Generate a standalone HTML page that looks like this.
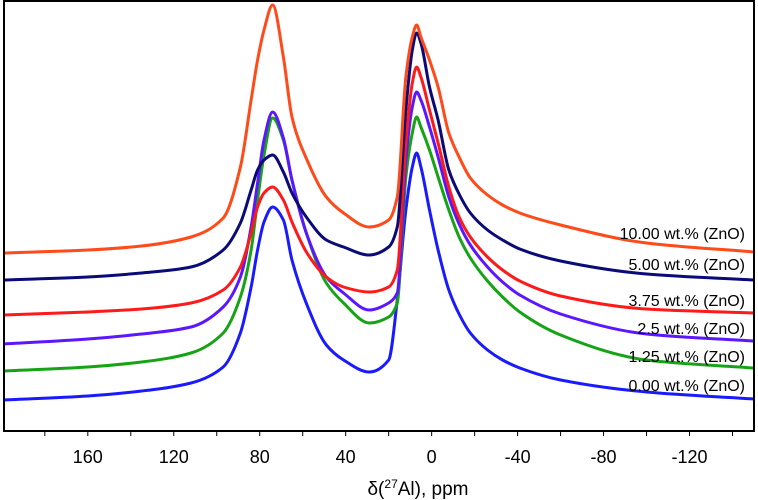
<!DOCTYPE html>
<html><head><meta charset="utf-8"><style>
body{margin:0;background:#fff}
svg{display:block;font-family:"Liberation Sans",Arial,sans-serif}
</style></head><body>
<svg id="c" width="758" height="500"></svg>
<script>
const ppm=[199,160,135,112,97,89,84,81,78,74,69,65,58,49,41,29,20,16,12,9,7,5,1,-3,-8,-13,-18,-26,-33,-41,-60,-100,-150];
const s0=[31,35,40,48,64,98,144,181,209,224,211,171,126,86,71,59,71,131,221,264,278,264,221,181,141,116,98,81,71,63,51,39,32];
const s125=[60,64,69,78,98,134,181,231,276,313,291,251,196,148,128,108,114,128,254,298,314,304,281,254,221,193,173,150,134,119,96,71,63];
const s25=[87,92,97,104,124,154,204,248,291,319,293,251,196,154,138,121,128,138,271,324,339,331,304,274,234,206,186,164,149,136,117,97,90];
const s375=[116,119,122,128,141,164,198,224,238,244,231,209,178,154,144,139,144,161,288,348,364,354,321,288,244,213,194,174,161,150,135,122,118];
const s5=[151,154,158,164,181,208,241,261,271,276,259,238,213,191,184,176,184,204,321,381,398,388,344,311,261,236,218,201,191,182,170,157,151];
const s10=[178,181,185,194,213,264,331,371,401,426,374,314,271,234,218,204,211,234,354,394,406,394,371,344,298,273,253,236,226,218,206,188,179];
const seriesNames=["0.00 wt.% (ZnO)","1.25 wt.% (ZnO)","2.5 wt.% (ZnO)","3.75 wt.% (ZnO)","5.00 wt.% (ZnO)","10.00 wt.% (ZnO)"];
const tickVals=[160,120,80,40,0,-40,-80,-120];
const NS="http://www.w3.org/2000/svg";
const svg=document.getElementById('c');
const L=4,R=754,T=1,B=431,pMax=199,pMin=-150;
const xS=p=>L+(pMax-p)/(pMax-pMin)*(R-L);
const yS=v=>B-v;
function mk(t,a){const e=document.createElementNS(NS,t);for(const k in a)e.setAttribute(k,a[k]);svg.appendChild(e);return e;}
function monotonePath(pts){
  const n=pts.length,dx=[],sl=[],m=[];
  for(let i=0;i<n-1;i++){dx[i]=pts[i+1][0]-pts[i][0];sl[i]=(pts[i+1][1]-pts[i][1])/dx[i];}
  m[0]=sl[0];m[n-1]=sl[n-2];
  for(let i=1;i<n-1;i++){
    if(sl[i-1]*sl[i]<=0)m[i]=0;
    else{const w1=2*dx[i]+dx[i-1],w2=dx[i]+2*dx[i-1];m[i]=(w1+w2)/(w1/sl[i-1]+w2/sl[i]);}
  }
  let d="M"+pts[0][0]+","+pts[0][1];
  for(let i=0;i<n-1;i++){
    const h=dx[i]/3;
    d+=` C${pts[i][0]+h},${pts[i][1]+m[i]*h} ${pts[i+1][0]-h},${pts[i+1][1]-m[i+1]*h} ${pts[i+1][0]},${pts[i+1][1]}`;
  }
  return d;
}
const series=[s0,s125,s25,s375,s5,s10];
const colors=["#1a1aff","#16a316","#5b17ff","#ff1a1a","#0b0b78","#ff4a1a"];
const labelOff=[8,6,7,7,10,13];
series.forEach((s,i)=>{
  const pts=ppm.map((p,j)=>[xS(p),yS(s[j])]);
  const path=mk('path',{d:monotonePath(pts),fill:'none',stroke:colors[i],'stroke-width':3,'stroke-linejoin':'round'});
  
  
  const t=mk('text',{x:745,y:yS(s[s.length-1])-labelOff[i],'text-anchor':'end','font-size':16,fill:'#000'});
  t.textContent=seriesNames[i];
  
  
});
const fr=mk('rect',{x:L,y:T,width:R-L,height:B-T,fill:'none',stroke:'#000','stroke-width':2});


for(let p=180;p>=-140;p-=20){
  const tk=mk('line',{x1:xS(p),x2:xS(p),y1:B,y2:B+5,stroke:'#000','stroke-width':1});
  
  
}
tickVals.forEach(v=>{
  const t=mk('text',{x:xS(v),y:463,'text-anchor':'middle','font-size':18,fill:'#000'});
  t.textContent=String(v);
  
  
});
const ti=mk('text',{x:418,y:495,'text-anchor':'middle','font-size':19,fill:'#000'});
ti.innerHTML='δ(<tspan dy="-7" font-size="12">27</tspan><tspan dy="7">Al), ppm</tspan>';


</script>
</body></html>
